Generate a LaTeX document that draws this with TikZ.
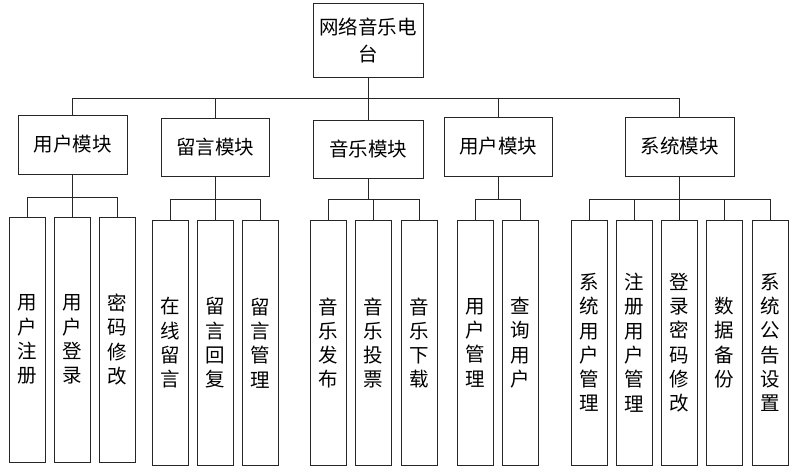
\documentclass[tikz,border=0pt]{standalone}
\usepackage{fontspec}
\setmainfont{Noto Sans CJK SC}
\begin{document}
\begin{tikzpicture}[x=1pt,y=-1pt,
  box/.style={draw=black!85, line width=0.8pt, inner sep=0pt, align=center,
    font=\fontsize{19.5}{27}\selectfont},
  leaf/.style={box, minimum width=36pt, minimum height=245pt,
    font=\fontsize{19.5}{24.3}\selectfont},
  conn/.style={draw=black!85, line width=0.8pt}]
\useasboundingbox (0,0) rectangle (800,472);
\node[box, minimum width=110pt, minimum height=74pt] (root) at (368,40) {网络音乐电\\台};
\node[box, minimum width=109pt, minimum height=59pt] (m1) at (72.5,144.5) {用户模块};
\node[box, minimum width=108pt, minimum height=58pt] (m2) at (215,147) {留言模块};
\node[box, minimum width=110pt, minimum height=58pt] (m3) at (368,149) {音乐模块};
\node[box, minimum width=108pt, minimum height=59pt] (m4) at (498,146.5) {用户模块};
\node[box, minimum width=109pt, minimum height=59pt] (m5) at (679.5,146.5) {系统模块};
% leaves
\node[leaf] (a1) at (27,339.5) {用\\户\\注\\册};
\node[leaf] (a2) at (72,339.5) {用\\户\\登\\录};
\node[leaf] (a3) at (117.5,339.5) {密\\码\\修\\改};
\node[leaf] (b1) at (170,343) {在\\线\\留\\言};
\node[leaf] (b2) at (215,343) {留\\言\\回\\复};
\node[leaf] (b3) at (260.5,343) {留\\言\\管\\理};
\node[leaf] (c1) at (328,343) {音\\乐\\发\\布};
\node[leaf] (c2) at (373,343) {音\\乐\\投\\票};
\node[leaf] (c3) at (419,343) {音\\乐\\下\\载};
\node[leaf] (d1) at (475,342.5) {用\\户\\管\\理};
\node[leaf] (d2) at (520.5,342.5) {查\\询\\用\\户};
\node[leaf] (e1) at (589,342.5) {系\\统\\用\\户\\管\\理};
\node[leaf] (e2) at (634,342.5) {注\\册\\用\\户\\管\\理};
\node[leaf] (e3) at (679,342.5) {登\\录\\密\\码\\修\\改};
\node[leaf] (e4) at (724.5,342.5) {数\\据\\备\\份};
\node[leaf] (e5) at (770,342.5) {系\\统\\公\\告\\设\\置};
% top bus
\coordinate (t0) at (368,98);
\draw[conn] (root.south) -- (t0);
\draw[conn] (m1.north) -- (m1.north |- t0) -- (m5.north |- t0) -- (m5.north);
\foreach \m in {m2,m3,m4} \draw[conn] (\m.north) -- (\m.north |- t0);
% group buses
\coordinate (g1) at (0,197);
\coordinate (g2) at (0,199);
\draw[conn] (m1.south) -- (m1.south |- g1);
\draw[conn] (a1.north) -- (a1.north |- g1) -- (a3.north |- g1) -- (a3.north);
\draw[conn] (a2.north) -- (a2.north |- g1);
\draw[conn] (m2.south) -- (m2.south |- g2);
\draw[conn] (b1.north) -- (b1.north |- g2) -- (b3.north |- g2) -- (b3.north);
\draw[conn] (b2.north) -- (b2.north |- g2);
\draw[conn] (m3.south) -- (m3.south |- g2);
\draw[conn] (c1.north) -- (c1.north |- g2) -- (c3.north |- g2) -- (c3.north);
\draw[conn] (c2.north) -- (c2.north |- g2);
\draw[conn] (m4.south) -- (m4.south |- g2);
\draw[conn] (d1.north) -- (d1.north |- g2) -- (d2.north |- g2) -- (d2.north);
\draw[conn] (m5.south) -- (m5.south |- g2);
\draw[conn] (e1.north) -- (e1.north |- g2) -- (e5.north |- g2) -- (e5.north);
\foreach \e in {e2,e3,e4} \draw[conn] (\e.north) -- (\e.north |- g2);
\end{tikzpicture}
\end{document}
